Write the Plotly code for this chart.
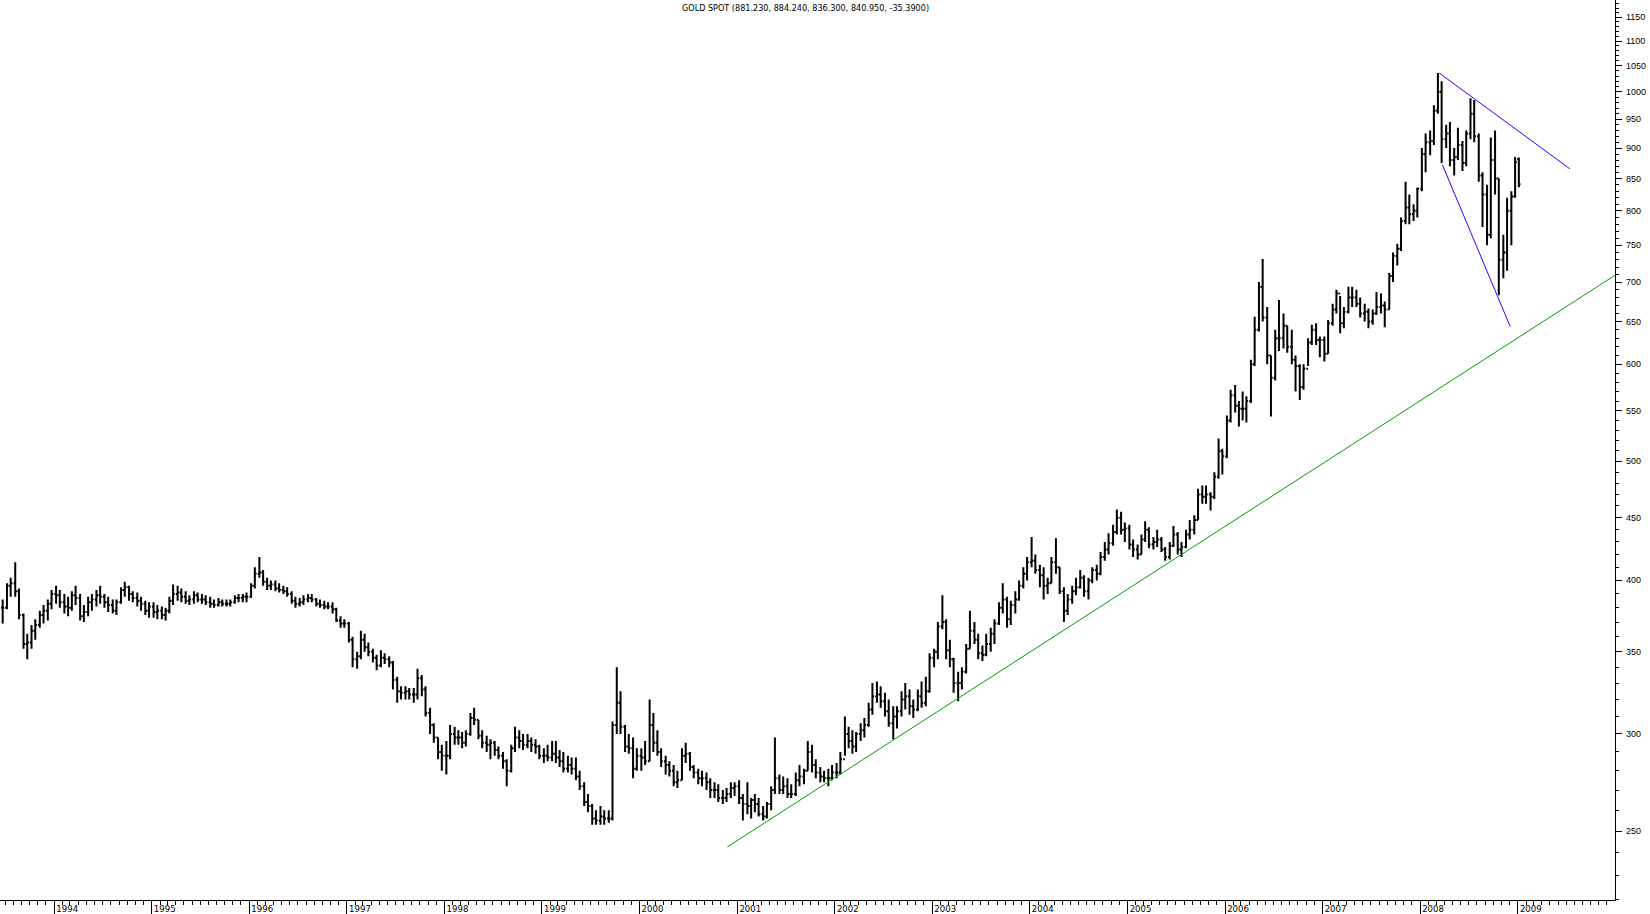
import math
import pandas as pd
import plotly.graph_objects as go

# ---------------- data (semi-monthly OHLC) ----------------
bar_start = "1993-06-15"
bar_end = "2008-12-15"

high = [
    386, 398, 402, 414, 394, 376, 362, 368, 372, 378, 382, 386, 393,  # 1993
    396, 393, 390, 388, 392, 396, 390, 382, 388, 390, 393, 396, 390, 388, 386, 386, 395, 399, 396, 392, 391, 388, 385, 384,  # 1994
    384, 382, 381, 380, 388, 397, 396, 394, 392, 389, 392, 391, 390, 389, 388, 386, 387, 386, 386, 386, 389, 390, 390, 391,  # 1995
    398, 410, 418, 408, 402, 400, 400, 398, 396, 395, 392, 388, 387, 389, 390, 390, 387, 386, 385, 384, 384, 380, 374, 372,  # 1996
    370, 360, 350, 364, 362, 356, 352, 348, 351, 349, 347, 344, 334, 328, 328, 327, 327, 339, 335, 328, 315, 306, 298, 294,  # 1997
    296, 305, 304, 302, 301, 302, 312, 315, 308, 302, 299, 297, 296, 293, 290, 286, 294, 304, 302, 300, 300, 298, 297, 294,  # 1998
    292, 294, 296, 296, 291, 290, 288, 287, 287, 280, 274, 268, 263, 260, 262, 260, 260, 307, 340, 325, 305, 300, 298, 292,  # 1999
    292, 296, 320, 312, 302, 292, 288, 285, 283, 280, 292, 295, 290, 283, 281, 280, 279, 276, 274, 273, 270, 271, 274, 274,  # 2000
    275, 268, 274, 266, 268, 266, 262, 264, 272, 298, 278, 277, 276, 273, 279, 283, 281, 296, 294, 286, 282, 280, 281, 283,  # 2001
    284, 290, 310, 304, 302, 301, 306, 309, 318, 330, 331, 328, 324, 320, 316, 316, 325, 330, 326, 320, 326, 331, 334, 349,  # 2002
    352, 370, 389, 372, 358, 346, 337, 340, 355, 378, 370, 362, 354, 362, 366, 372, 384, 398, 388, 385, 392, 400, 410, 418,  # 2003
    434, 420, 412, 410, 402, 418, 433, 410, 395, 390, 396, 402, 408, 404, 402, 410, 412, 422, 430, 437, 444, 457, 455, 446,  # 2004
    444, 432, 428, 436, 447, 442, 434, 440, 434, 426, 430, 443, 438, 430, 440, 448, 452, 475, 478, 478, 472, 490, 522, 512,  # 2005
    545, 572, 577, 560, 570, 565, 605, 656, 700, 731, 668, 610, 640, 677, 660, 645, 640, 610, 600, 600, 630, 646, 648, 632,  # 2006
    632, 652, 672, 690, 682, 668, 694, 694, 690, 680, 672, 666, 665, 687, 685, 675, 712, 740, 752, 790, 845, 825, 810, 836,  # 2007
    900, 925, 930, 975, 1036, 1020, 940, 945, 900, 935, 912, 930, 988, 985, 925, 860, 840, 918, 930, 850, 765, 820, 830, 885,  # 2008
]
low = [
    369, 379, 388, 388, 372, 352, 345, 352, 358, 366, 369, 371, 379,  # 1993
    383, 380, 376, 374, 378, 382, 371, 370, 374, 378, 381, 383, 380, 377, 376, 375, 383, 388, 385, 384, 381, 378, 375, 373,  # 1994
    373, 372, 372, 371, 376, 382, 385, 384, 383, 382, 383, 384, 383, 382, 380, 380, 381, 381, 381, 381, 383, 384, 384, 384,  # 1995
    387, 394, 402, 396, 393, 393, 392, 391, 390, 388, 383, 380, 381, 382, 384, 384, 381, 380, 379, 379, 376, 370, 366, 366,  # 1996
    356, 340, 339, 345, 350, 347, 343, 338, 340, 342, 340, 326, 318, 320, 320, 320, 318, 320, 322, 310, 300, 295, 286, 280,  # 1997
    278, 286, 294, 294, 292, 293, 299, 305, 297, 292, 290, 286, 288, 286, 281, 272, 279, 290, 292, 291, 292, 290, 289, 286,  # 1998
    284, 285, 285, 284, 282, 279, 279, 278, 275, 270, 262, 259, 253, 253, 253, 253, 254, 255, 300, 300, 290, 289, 276, 280,  # 1999
    280, 283, 285, 290, 288, 282, 278, 277, 272, 271, 275, 284, 280, 276, 273, 272, 270, 266, 266, 264, 263, 264, 266, 267,  # 2000
    263, 255, 258, 256, 259, 257, 255, 256, 260, 268, 268, 268, 266, 266, 267, 272, 273, 280, 279, 276, 274, 274, 272, 275,  # 2001
    276, 278, 288, 292, 289, 290, 296, 298, 304, 311, 318, 315, 310, 304, 297, 303, 310, 314, 311, 309, 313, 315, 316, 324,  # 2002
    340, 345, 365, 345, 340, 324, 319, 326, 336, 352, 355, 345, 344, 347, 350, 355, 368, 376, 366, 368, 376, 385, 394, 400,  # 2003
    410, 405, 395, 386, 390, 398, 405, 390, 370, 375, 383, 389, 394, 388, 386, 398, 400, 404, 415, 420, 427, 436, 436, 430,  # 2004
    424, 418, 416, 420, 430, 425, 424, 426, 422, 415, 416, 426, 420, 418, 425, 432, 436, 448, 462, 462, 456, 466, 484, 488,  # 2005
    503, 538, 548, 534, 540, 538, 558, 598, 638, 650, 600, 544, 582, 615, 618, 613, 600, 570, 561, 572, 598, 622, 622, 608,  # 2006
    603, 612, 645, 660, 636, 642, 660, 668, 668, 655, 650, 642, 646, 658, 660, 643, 665, 700, 722, 742, 780, 780, 785, 790,  # 2007
    830, 860, 888, 905, 960, 875, 900, 870, 855, 880, 862, 870, 915, 910, 845, 776, 750, 760, 825, 683, 705, 715, 750, 820,  # 2008
]
close = [
    380, 396, 398, 392, 375, 355, 356, 364, 368, 375, 378, 383, 390,  # 1993
    389, 384, 381, 380, 389, 387, 374, 377, 384, 386, 389, 388, 384, 382, 378, 384, 393, 395, 390, 387, 385, 383, 378, 381,  # 1994
    377, 378, 375, 378, 385, 390, 391, 388, 385, 386, 389, 386, 386, 384, 383, 382, 384, 383, 383, 384, 387, 387, 388, 388,  # 1995
    396, 405, 406, 399, 396, 397, 394, 393, 392, 390, 385, 383, 384, 386, 387, 386, 383, 382, 381, 381, 379, 371, 369, 369,  # 1996
    358, 345, 347, 358, 353, 350, 346, 341, 346, 345, 343, 332, 325, 324, 325, 323, 323, 333, 326, 312, 305, 298, 290, 288,  # 1997
    288, 300, 298, 298, 295, 300, 309, 308, 299, 295, 294, 295, 291, 288, 285, 280, 292, 298, 296, 294, 296, 294, 293, 288,  # 1998
    288, 287, 289, 287, 285, 281, 283, 281, 277, 272, 264, 262, 256, 255, 257, 256, 256, 305, 318, 304, 293, 292, 281, 288,  # 1999
    287, 285, 305, 295, 290, 285, 283, 280, 274, 275, 288, 289, 282, 279, 276, 276, 274, 270, 270, 266, 266, 268, 271, 272,  # 2000
    266, 263, 262, 265, 263, 258, 257, 263, 270, 276, 270, 272, 268, 268, 275, 277, 280, 290, 283, 279, 277, 276, 276, 279,  # 2001
    279, 286, 300, 296, 293, 300, 302, 305, 314, 322, 323, 319, 313, 306, 310, 313, 320, 322, 316, 314, 322, 318, 325, 346,  # 2002
    350, 367, 370, 351, 345, 330, 330, 337, 352, 364, 358, 349, 348, 355, 362, 369, 380, 386, 372, 382, 386, 396, 405, 414,  # 2003
    415, 408, 404, 396, 398, 414, 410, 392, 378, 386, 392, 395, 402, 392, 400, 408, 405, 418, 424, 429, 438, 450, 440, 441,  # 2004
    428, 424, 420, 432, 440, 428, 430, 432, 424, 418, 427, 436, 424, 426, 436, 440, 448, 470, 468, 470, 468, 486, 510, 505,  # 2005
    540, 566, 555, 552, 552, 560, 600, 640, 694, 655, 610, 585, 630, 630, 645, 620, 605, 598, 575, 595, 625, 640, 628, 628,  # 2006
    612, 648, 665, 685, 648, 662, 680, 680, 672, 660, 662, 650, 660, 668, 670, 665, 708, 735, 745, 785, 805, 795, 800, 834,  # 2007
    890, 910, 912, 965, 1000, 915, 925, 880, 885, 905, 875, 925, 960, 920, 855, 825, 765, 880, 850, 730, 740, 800, 822, 876.34,  # 2008
]

# last bar (values shown in the title)
last_date = "2009-01-05"
last_open = 881.230
last_high = 884.240
last_low = 836.300
last_close = 840.950
last_change = -35.3900

# drawn trend lines (date, price)
green_x = ["2000-11-25", "2009-12-31"]
green_y = [242.7, 709.0]
blue_upper_x = ["2008-03-13", "2009-07-15"]
blue_upper_y = [1036.0, 865.6]
blue_lower_x = ["2008-03-25", "2008-12-04"]
blue_lower_y = [872.0, 643.8]

# axis settings
y_tick_values = [250, 300, 350, 400, 450, 500, 550, 600, 650, 700, 750,
                 800, 850, 900, 950, 1000, 1050, 1100, 1150]
y_minor_step = 10
y_range_values = [219.7, 1188.0]
x_range = ["1993-06-12", "2009-12-31"]

# ---------------- build ----------------
dates = list(pd.date_range(bar_start, bar_end, freq="SMS") + pd.Timedelta(days=7))
assert len(dates) == len(high) == len(low) == len(close), (len(dates), len(high), len(low), len(close))

opens = [close[0]] + close[:-1]
x_all = dates + [pd.Timestamp(last_date)]
o_all = opens + [last_open]
h_all = high + [last_high]
l_all = low + [last_low]
c_all = close + [last_close]

fig = go.Figure()
fig.add_trace(go.Ohlc(
    x=x_all, open=o_all, high=h_all, low=l_all, close=c_all,
    increasing=dict(line=dict(color="black", width=2)),
    decreasing=dict(line=dict(color="black", width=2)),
    tickwidth=0.45, hoverinfo="skip", showlegend=False,
))
fig.add_trace(go.Scatter(x=green_x, y=green_y, mode="lines",
                         line=dict(color="#00a000", width=1), hoverinfo="skip", showlegend=False))
fig.add_trace(go.Scatter(x=blue_upper_x, y=blue_upper_y, mode="lines",
                         line=dict(color="#1010ff", width=1), hoverinfo="skip", showlegend=False))
fig.add_trace(go.Scatter(x=blue_lower_x, y=blue_lower_y, mode="lines",
                         line=dict(color="#1010ff", width=1), hoverinfo="skip", showlegend=False))

narrow = "Liberation Sans Narrow, Arial Narrow, DejaVu Sans Condensed, Liberation Sans, sans-serif"
label_font = dict(family="Liberation Sans, Arial, sans-serif", size=9, color="black")

# price labels on the right-hand scale, placed through the y axis
y_label_annotations = [
    dict(xref="paper", yref="y", x=1, y=math.log10(v), text=str(v), showarrow=False,
         xanchor="left", yanchor="middle", xshift=9, font=label_font)
    for v in y_tick_values
]

fig.update_layout(
    width=1650, height=914,
    margin=dict(l=0, r=35, t=0, b=14),
    paper_bgcolor="white", plot_bgcolor="white",
    hovermode=False,
    showlegend=False,
    xaxis=dict(
        type="date", range=x_range, automargin=False,
        rangeslider=dict(visible=False),
        showgrid=False, zeroline=False,
        showline=True, linecolor="black", linewidth=1,
        tickmode="linear", tick0="1994-01-01", dtick="M12", tickformat="%Y",
        ticks="outside", ticklen=13, tickwidth=1, tickcolor="black",
        ticklabelshift=13, ticklabelstandoff=-13,
        tickfont=dict(family=narrow, size=9.5, color="black"),
        minor=dict(dtick="M1", tick0="1994-01-01", ticks="outside", ticklen=4,
                   tickwidth=1, tickcolor="black", showgrid=False),
    ),
    yaxis=dict(
        type="log", side="right", automargin=False,
        range=[math.log10(y_range_values[0]), math.log10(y_range_values[1])],
        showgrid=False, zeroline=False,
        showline=True, linecolor="black", linewidth=1,
        tickmode="array", tickvals=y_tick_values, showticklabels=False,
        ticks="outside", ticklen=6, tickwidth=1, tickcolor="black",
        minor=dict(tick0=0, dtick=f"L{y_minor_step}", ticks="outside", ticklen=3,
                   tickwidth=1, tickcolor="black", showgrid=False),
    ),
    annotations=y_label_annotations + [dict(
        xref="paper", yref="paper", x=0.499, y=1, xanchor="center", yanchor="top",
        yshift=-1, showarrow=False,
        text=f"GOLD SPOT ({last_open:.3f}, {last_high:.3f}, {last_low:.3f}, {last_close:.3f}, {last_change:.4f})",
        font=dict(family=narrow, size=9, color="black"),
    )],
)

fig.write_html("out.html", config={"displayModeBar": False},
               post_script="document.body.style.margin='0px';")
